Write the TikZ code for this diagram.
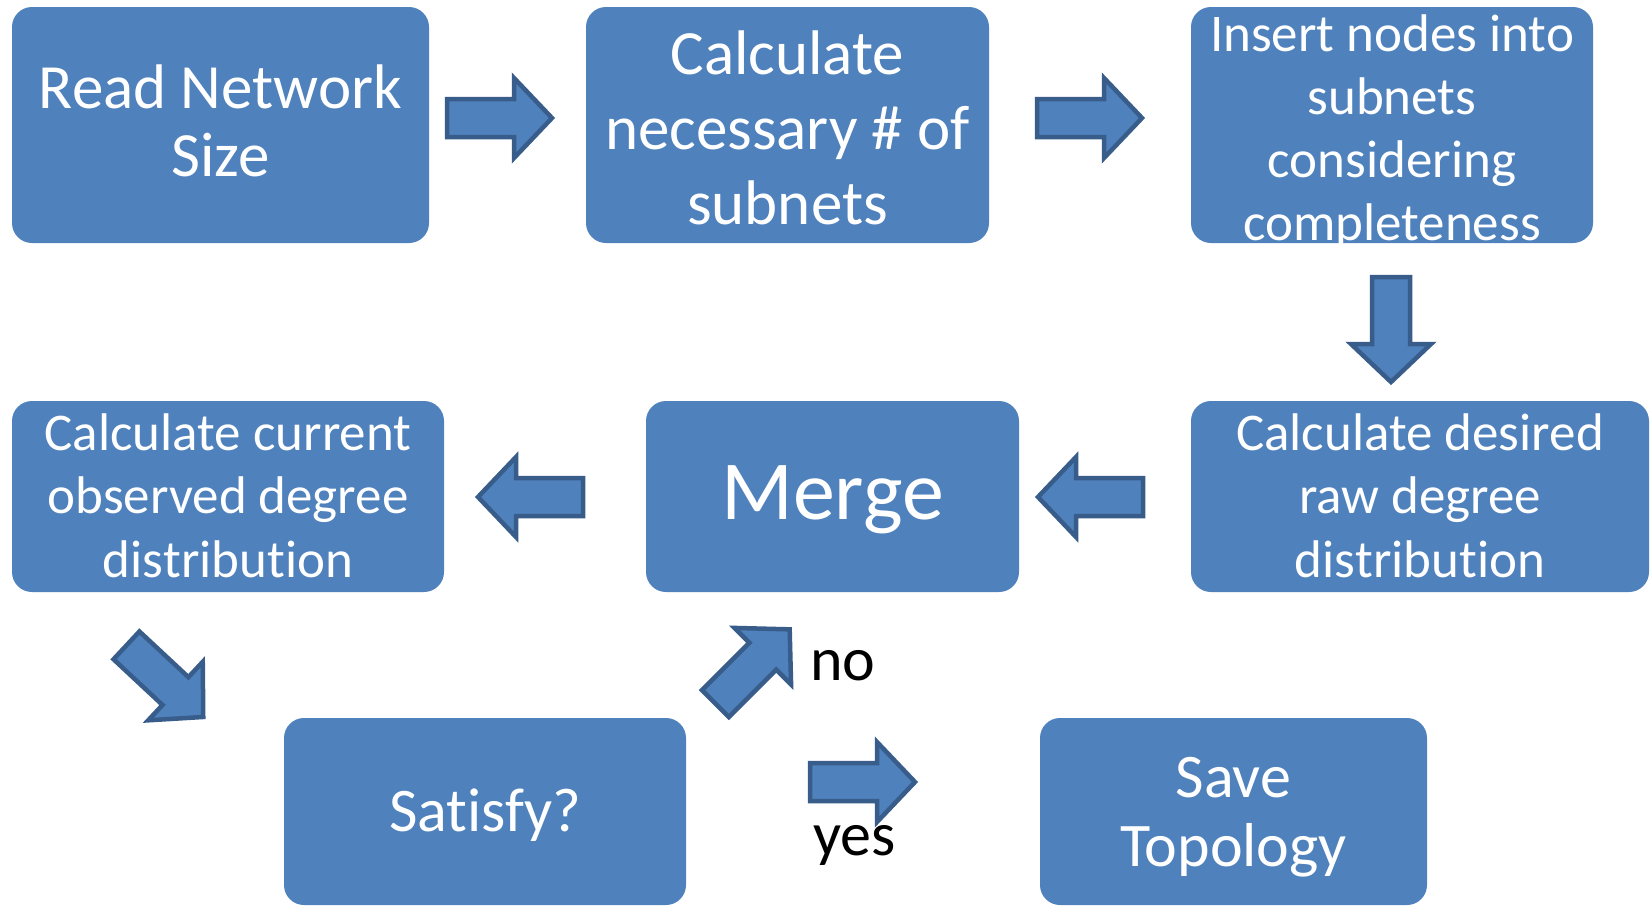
\documentclass[tikz,border=0pt]{standalone}
\usepackage{fontspec}
\setmainfont{Carlito}[Ligatures=NoCommon]
\definecolor{boxblue}{HTML}{4F81BD}
\definecolor{arrowedge}{HTML}{385D8A}
\newcommand\st{\rule[-0.25em]{0pt}{1.05em}}
\newcommand\fsz[2]{\fontsize{#1}{#2}\selectfont\lineskiplimit=-1000pt\relax}
\newcommand\nl{\kern0pt\relax}
\tikzset{
  box/.style={rectangle, rounded corners=20pt, fill=boxblue, inner sep=0pt},
  txt/.style={text=white, align=center, inner sep=0pt, anchor=north},
  lbl/.style={text=black, inner sep=0pt, anchor=base west, font={\fsz{62}{74}}},
  blockarrow/.style={fill=boxblue, draw=arrowedge, line width=4.5pt, line join=miter},
  barrow/.pic={\draw[blockarrow] (2,-19) -- (69,-19) -- (69,-40) -- (107,0) -- (69,40) -- (69,19) -- (2,19) -- cycle;}
}
\begin{document}
\begin{tikzpicture}[x=1pt,y=-1pt]
\useasboundingbox (0,0) rectangle (1650,906);
\fill[white] (0,0) rectangle (1650,906);
\begin{scope}
\clip (0,0) rectangle (1650,906);
% boxes
\node[box, minimum width=417pt, minimum height=236pt] (read) at (220.5,125) {};
\node[box, minimum width=403pt, minimum height=236pt] (calc) at (787.5,125) {};
\node[box, minimum width=402pt, minimum height=236pt] (insert) at (1392,125) {};
\node[box, minimum width=432pt, minimum height=191pt] (current) at (228,496.5) {};
\node[box, minimum width=373pt, minimum height=191pt] (merge) at (832.5,496.5) {};
\node[box, minimum width=458pt, minimum height=191pt] (desired) at (1420,496.5) {};
\node[box, minimum width=402pt, minimum height=187pt] (satisfy) at (485,811.5) {};
\node[box, minimum width=387pt, minimum height=187pt] (save) at (1233.5,811.5) {};
% texts
\node[txt, font={\fsz{63}{68}}] (readt) at (220.5,57.6) {\st Read Network\\\st Size};
\node[txt, font={\fsz{63}{75}}] (calct) at (787.5,23.6) {\st Calculate\\\st necessary \# of\\\st subnets};
\begin{scope}
\clip (1150,0) rectangle (1640,243);
\node[txt, font={\fsz{53}{63}}] (insertt) at (1392,8.6) {\st Insert nodes into\\\st subnets\\\st considering\\\st completeness};
\end{scope}
\node[txt, font={\fsz{53}{63.5}}] (currentt) at (228,407.6) {\st Calculate current\\\st observed degree\\\st dis\nl tribut\nl ion};
\node[txt, font={\fsz{84}{96}}] (merget) at (832.5,451.8) {\st Merge};
\node[txt, font={\fsz{53}{63.5}}] (desiredt) at (1420,407.6) {\st Calculate desired\\\st raw degree\\\st dis\nl tribut\nl ion};
\node[txt, font={\fsz{62}{74}}] (satisfyt) at (485,781.4) {\st Sat\nl isf\nl y?};
\node[txt, font={\fsz{62}{69}}] (savet) at (1233.5,747.4) {\st Save\\\st Topology};
% block arrows
\pic (a1) at (445,118) {barrow};
\pic (a2) at (1035,118) {barrow};
\pic[rotate=-90] (a3) at (1391,275) {barrow};
\pic[rotate=180] (a4) at (585,497) {barrow};
\pic[rotate=180] (a5) at (1145,497) {barrow};
\pic[rotate=-43] (a6) at (125,644) {barrow};
\pic[rotate=45] (a7) at (714,705) {barrow};
\pic (a8) at (808,782) {barrow};
% labels
\node[lbl] (no) at (810,680) {no};
\node[lbl] (yes) at (813,855) {yes};
\end{scope}
\end{tikzpicture}
\end{document}
